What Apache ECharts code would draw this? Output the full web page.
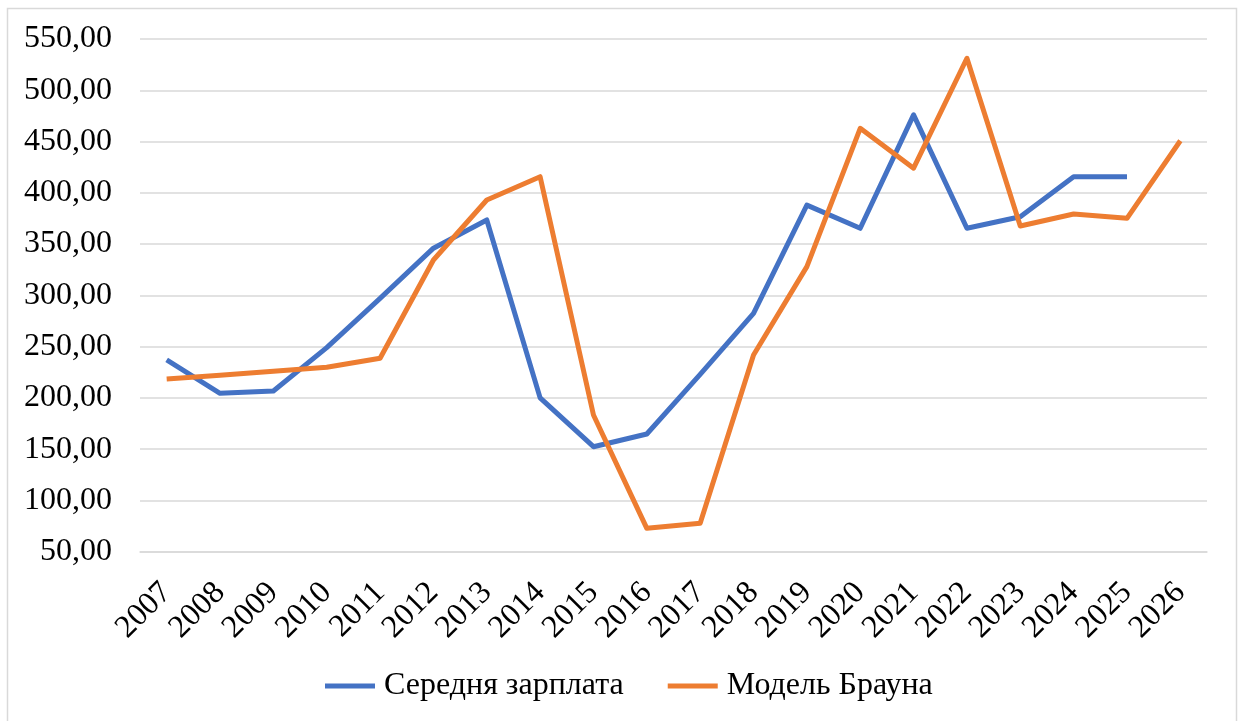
<!DOCTYPE html>
<html>
<head>
<meta charset="utf-8">
<script src="https://cdn.jsdelivr.net/npm/echarts@6/dist/echarts.min.js"></script>
<style>
  html, body { margin: 0; padding: 0; background: #fff; }
  #chart { width: 1238px; height: 721px; }
</style>
</head>
<body>
<div id="chart"></div>
<script>
// Years on the horizontal axis
const years = ['2007','2008','2009','2010','2011','2012','2013','2014','2015','2016',
               '2017','2018','2019','2020','2021','2022','2023','2024','2025','2026'];

// Average salary (no value for the last year)
const avgSalary = [237, 204.5, 206.7, 249, 297, 346, 373.5, 200, 152.4, 164.8,
                   223, 282.5, 388, 365.4, 476, 365.4, 376.7, 415.7, 415.7, null];

// Brown's model forecast
const brownModel = [218.4, 222, 226, 229.8, 238.6, 334.5, 393, 415.7, 183.3, 72.8,
                    77.7, 241.8, 328, 462.9, 424, 531.2, 367.6, 379.3, 375.1, 450.8];

// Value-axis range
const yMin = 50, yMax = 550, yStep = 50;

const FONT = '"Liberation Serif", "Times New Roman", serif';

const chart = echarts.init(document.getElementById('chart'), null, { renderer: 'canvas' });

chart.setOption({
  backgroundColor: '#ffffff',
  animation: false,
  graphic: [{
    type: 'rect',
    shape: { x: 7.5, y: 8.5, width: 1229, height: 720 },
    style: { fill: 'none', stroke: '#d9d9d9', lineWidth: 1.5 },
    silent: true
  }],
  grid: { left: 140, right: 31, top: 39, bottom: 169.3, containLabel: false },
  legend: {
    bottom: 14,
    left: 320,
    itemWidth: 50,
    itemHeight: 5,
    itemGap: 44,
    icon: 'rect',
    textStyle: { fontFamily: FONT, fontSize: 32, color: '#000', padding: [0, 0, 0, 4] },
    data: ['Середня зарплата', 'Модель Брауна']
  },
  xAxis: {
    type: 'category',
    data: years,
    boundaryGap: true,
    axisLine: { show: true, lineStyle: { color: '#d9d9d9', width: 1.5 } },
    axisTick: { show: false },
    axisLabel: {
      interval: 0,
      rotate: 45,
      margin: 36,
      fontFamily: FONT,
      fontSize: 32,
      color: '#000'
    }
  },
  yAxis: {
    type: 'value',
    min: yMin,
    max: yMax,
    interval: yStep,
    axisLine: { show: false },
    axisTick: { show: false },
    splitLine: { lineStyle: { color: '#d9d9d9', width: 1.5 } },
    axisLabel: {
      margin: 28,
      fontFamily: FONT,
      fontSize: 32,
      color: '#000',
      formatter: v => v.toFixed(2).replace('.', ',')
    }
  },
  series: [
    {
      name: 'Середня зарплата',
      type: 'line',
      data: avgSalary,
      symbol: 'none',
      connectNulls: false,
      lineStyle: { color: '#4472C4', width: 5, cap: 'butt', join: 'round' },
      itemStyle: { color: '#4472C4' }
    },
    {
      name: 'Модель Брауна',
      type: 'line',
      data: brownModel,
      symbol: 'none',
      lineStyle: { color: '#ED7D31', width: 5, cap: 'butt', join: 'round' },
      itemStyle: { color: '#ED7D31' }
    }
  ]
});
</script>
</body>
</html>
